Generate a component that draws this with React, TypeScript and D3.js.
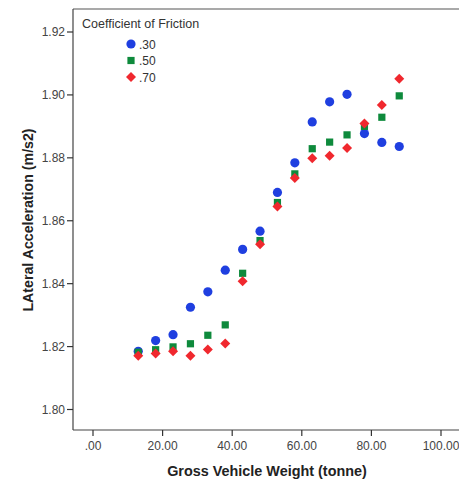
import React from "react";
import * as d3 from "d3";

const weights = [13, 18, 23, 28, 33, 38, 43, 48, 53, 58, 63, 68, 73, 78, 83, 88];
const friction30 = [1.8185, 1.8219, 1.8238, 1.8325, 1.8374, 1.8443, 1.8509, 1.8567, 1.869, 1.8784, 1.8914, 1.8978, 1.9002, 1.8877, 1.8849, 1.8836];
const friction50 = [1.8182, 1.819, 1.8199, 1.8209, 1.8236, 1.8269, 1.8433, 1.8537, 1.8658, 1.8749, 1.8829, 1.885, 1.8873, 1.890, 1.8929, 1.8997];
const friction70 = [1.8171, 1.8178, 1.8185, 1.8171, 1.8191, 1.821, 1.8408, 1.8525, 1.8645, 1.8736, 1.8799, 1.8807, 1.8831, 1.8909, 1.8968, 1.9051];
const xTicks = [0, 20, 40, 60, 80, 100];
const yTicks = [1.8, 1.82, 1.84, 1.86, 1.88, 1.9, 1.92];
const seriesNames = [".30", ".50", ".70"];
const seriesColors = ["#1f3fe0", "#0e8a3c", "#f0282e"];

const W = 459;
const H = 497;
const boxLeft = 73;
const boxTop = 9;
const boxBottom = 430;

export default function App() {
  const x = d3.scaleLinear().domain([0, 100]).range([93, 441]);
  const y = d3.scaleLinear().domain([1.8, 1.92]).range([409.5, 32]);
  const font = "'Liberation Sans', Arial, sans-serif";
  const series = [friction30, friction50, friction70];

  const diamondPath = (cx: number, cy: number, s: number) =>
    `M${cx},${cy - s}L${cx + s},${cy}L${cx},${cy + s}L${cx - s},${cy}Z`;

  const drawMarker = (kind: number, cx: number, cy: number, color: string, key: string) => {
    if (kind === 0) return <circle key={key} cx={cx} cy={cy} r={4.6} fill={color} />;
    if (kind === 1) return <rect key={key} x={cx - 3.6} y={cy - 3.6} width={7.2} height={7.2} fill={color} />;
    return <path key={key} d={diamondPath(cx, cy, 5)} fill={color} />;
  };

  return (
    <svg width={W} height={H} style={{ position: "absolute", left: 0, top: 0, background: "#fff" }}>
      <rect x={0} y={0} width={W} height={H} fill="#fff" />
      <line x1={boxLeft} y1={boxTop} x2={W} y2={boxTop} stroke="#555" strokeWidth={1.2} />
      <line x1={boxLeft} y1={boxTop} x2={boxLeft} y2={boxBottom} stroke="#444" strokeWidth={1.2} />
      <line x1={boxLeft} y1={boxBottom} x2={W} y2={boxBottom} stroke="#444" strokeWidth={1.2} />
      {yTicks.map((t) => (
        <g key={"y" + t}>
          <line x1={boxLeft - 6} x2={boxLeft} y1={y(t)} y2={y(t)} stroke="#333" strokeWidth={1.2} />
          <text x={boxLeft - 8} y={y(t)} dy="0.35em" textAnchor="end" fontFamily={font} fontSize={12} fill="#444">
            {d3.format(".2f")(t)}
          </text>
        </g>
      ))}
      {xTicks.map((t) => (
        <g key={"x" + t}>
          <line x1={x(t)} x2={x(t)} y1={boxBottom} y2={boxBottom + 6} stroke="#333" strokeWidth={1.2} />
          <text x={x(t)} y={boxBottom + 20} textAnchor="middle" fontFamily={font} fontSize={12} fill="#444">
            {t === 0 ? ".00" : d3.format(".2f")(t)}
          </text>
        </g>
      ))}
      <text x={(93 + 441) / 2} y={476} textAnchor="middle" fontFamily={font} fontSize={14.4} fontWeight="bold" fill="#222">
        Gross Vehicle Weight (tonne)
      </text>
      <text
        transform={`translate(33,${220}) rotate(-90)`}
        textAnchor="middle"
        fontFamily={font}
        fontSize={14.2}
        fontWeight="bold"
        fill="#222"
      >
        LAteral Acceleration (m/s2)
      </text>
      {series.map((vals, si) =>
        vals.map((v, i) => drawMarker(si, x(weights[i]), y(v), seriesColors[si], `p${si}-${i}`))
      )}
      <text x={82} y={28} fontFamily={font} fontSize={12.5} fill="#333">
        Coefficient of Friction
      </text>
      {seriesNames.map((n, i) => (
        <g key={"l" + i}>
          {drawMarker(i, 131, 44 + i * 16.5, seriesColors[i], "lm" + i)}
          <text x={139} y={44 + i * 16.5} dy="0.38em" fontFamily={font} fontSize={12} fill="#333">
            {n}
          </text>
        </g>
      ))}
    </svg>
  );
}
